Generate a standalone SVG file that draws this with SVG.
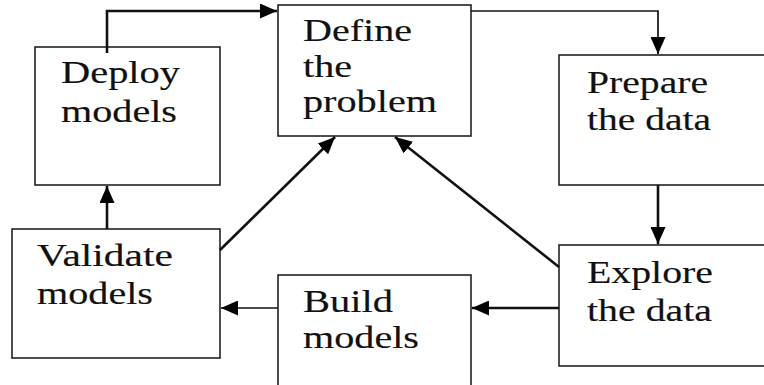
<svg xmlns="http://www.w3.org/2000/svg" width="764" height="385" viewBox="0 0 764 385">
<style>
.box{fill:#fff;stroke:#222;stroke-width:1.6}
.t{font-family:"Liberation Serif","Times New Roman",serif;font-size:32px;fill:#111;stroke:#111;stroke-width:0.15}
.c{fill:none;stroke:#111;stroke-width:2.6}
.c2{fill:none;stroke:#111;stroke-width:1.7}
</style>
<defs>
<marker id="ah" viewBox="0 0 17 15" refX="17" refY="7.5" markerWidth="17" markerHeight="15" markerUnits="userSpaceOnUse" orient="auto">
<path d="M0,0 L17,7.5 L0,15 Z" fill="#000"/>
</marker>
</defs>
<rect width="764" height="385" fill="#fff"/>
<g id="deploy">
<rect class="box" x="35" y="47" width="185" height="138"/>
<text class="t" x="61" y="83" textLength="119" lengthAdjust="spacingAndGlyphs">Deploy</text>
<text class="t" x="61" y="122" textLength="116" lengthAdjust="spacingAndGlyphs">models</text>
</g>
<g id="define">
<rect class="box" x="278" y="5" width="193" height="131"/>
<text class="t" x="303" y="41" textLength="109" lengthAdjust="spacingAndGlyphs">Define</text>
<text class="t" x="303" y="77" textLength="49" lengthAdjust="spacingAndGlyphs">the</text>
<text class="t" x="303" y="112" textLength="134" lengthAdjust="spacingAndGlyphs">problem</text>
</g>
<g id="prepare">
<rect class="box" x="559" y="55" width="210" height="130"/>
<text class="t" x="587" y="93" textLength="121" lengthAdjust="spacingAndGlyphs">Prepare</text>
<text class="t" x="587" y="130" textLength="124" lengthAdjust="spacingAndGlyphs">the data</text>
</g>
<g id="explore">
<rect class="box" x="559" y="245" width="210" height="121"/>
<text class="t" x="587" y="283" textLength="126" lengthAdjust="spacingAndGlyphs">Explore</text>
<text class="t" x="587" y="321" textLength="125" lengthAdjust="spacingAndGlyphs">the data</text>
</g>
<g id="build">
<rect class="box" x="278" y="275" width="193" height="120"/>
<text class="t" x="303" y="312" textLength="90" lengthAdjust="spacingAndGlyphs">Build</text>
<text class="t" x="303" y="348" textLength="116" lengthAdjust="spacingAndGlyphs">models</text>
</g>
<g id="validate">
<rect class="box" x="12" y="229" width="208" height="129"/>
<text class="t" x="37" y="266" textLength="136" lengthAdjust="spacingAndGlyphs">Validate</text>
<text class="t" x="37" y="304" textLength="116" lengthAdjust="spacingAndGlyphs">models</text>
</g>
<g id="connectors">
<path class="c" d="M107,53 V11 H277" marker-end="url(#ah)"/>
<path class="c2" d="M471,11 H658 V54" marker-end="url(#ah)"/>
<path class="c" d="M658,185 V244" marker-end="url(#ah)"/>
<path class="c" d="M559,308 H472" marker-end="url(#ah)"/>
<path class="c2" d="M278,308 H221" marker-end="url(#ah)"/>
<path class="c" d="M107,229 V186" marker-end="url(#ah)"/>
<path class="c" d="M220,250 L335,137" marker-end="url(#ah)"/>
<path class="c" d="M559,267 L395,137" marker-end="url(#ah)"/>
</g>
</svg>
